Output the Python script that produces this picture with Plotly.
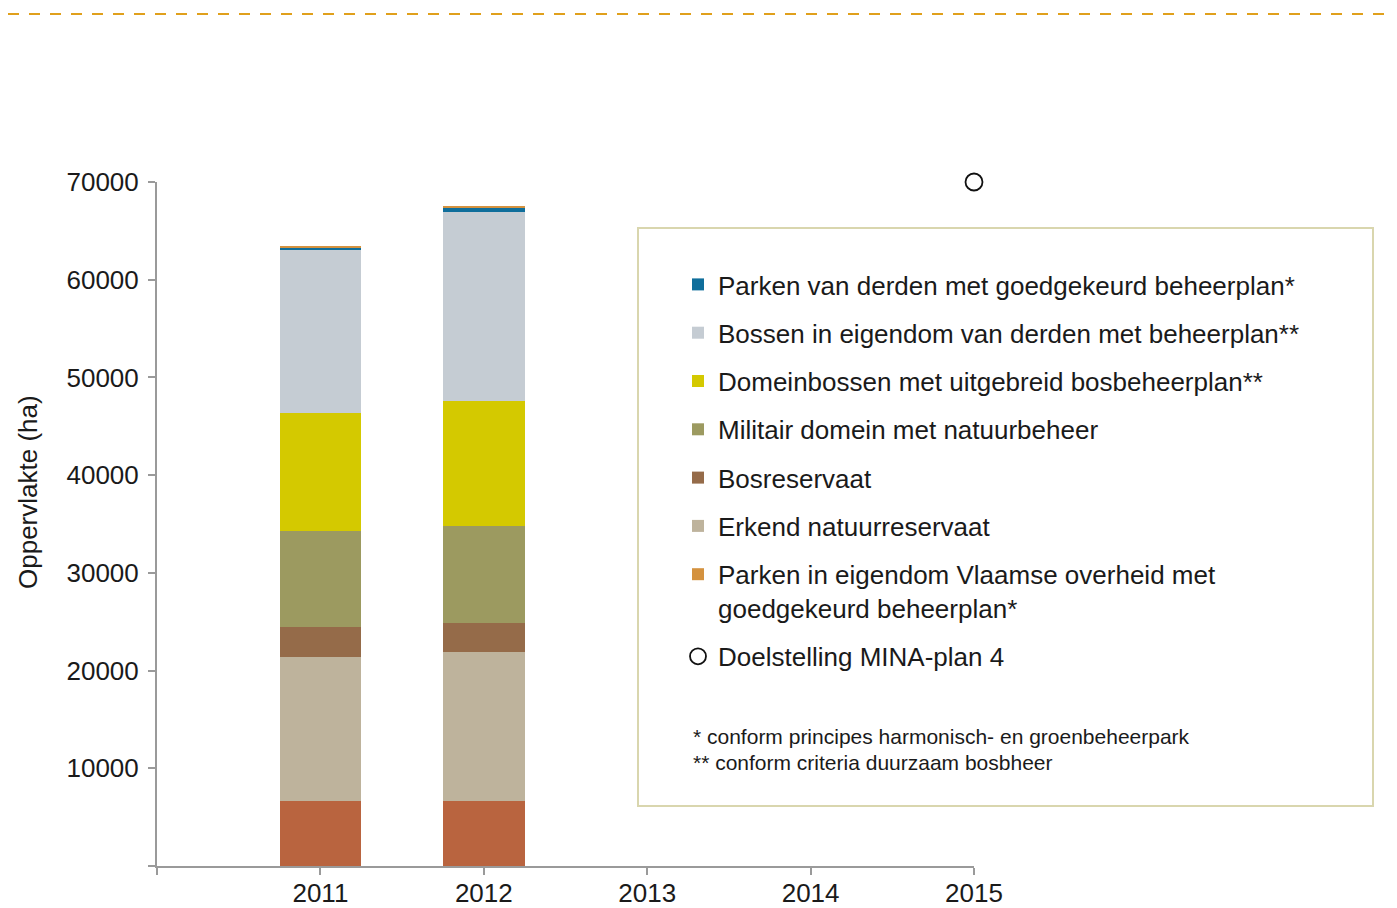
import plotly.graph_objects as go

years = [2011, 2012]
vlaams_natuurreservaat = [6650, 6650]
erkend_natuurreservaat = [14740, 15220]
bosreservaat = [3070, 3030]
militair_domein = [9825, 9900]
domeinbossen = [12075, 12790]
bossen_derden = [16680, 19340]
parken_derden = [300, 440]
parken_vlaamse_overheid = [100, 150]

target_year = [2015]
target_value = [70000]

x_ticks = [2010, 2011, 2012, 2013, 2014, 2015]
x_ticktext = ["", "2011", "2012", "2013", "2014", "2015"]
y_ticks = [0, 10000, 20000, 30000, 40000, 50000, 60000, 70000]
y_ticktext = ["", "10000", "20000", "30000", "40000", "50000", "60000", "70000"]

FONT = "Liberation Sans, Arial, Helvetica, sans-serif"
TXT = "#1a1a1a"
FS = 26

series = [
    ("Vlaams natuurreservaat", vlaams_natuurreservaat, "#B9643F", False, 0),
    ("Erkend natuurreservaat", erkend_natuurreservaat, "#BEB39C", True, 6),
    ("Bosreservaat", bosreservaat, "#956B49", True, 5),
    ("Militair domein met natuurbeheer", militair_domein, "#9C9A60", True, 4),
    ("Domeinbossen met uitgebreid bosbeheerplan**", domeinbossen, "#D4C900", True, 3),
    ("Bossen in eigendom van derden met beheerplan**", bossen_derden, "#C5CCD3", True, 2),
    ("Parken van derden met goedgekeurd beheerplan*", parken_derden, "#0F6E9B", True, 1),
    ("Parken in eigendom Vlaamse overheid met<br>goedgekeurd beheerplan*", parken_vlaamse_overheid, "#D4923F", True, 7),
]

fig = go.Figure()
for i, (name, vals, color, show, rank) in enumerate(series):
    fig.add_trace(go.Bar(
        x=years, y=vals, name=name, width=0.5,
        marker=dict(color=color, line=dict(width=0)),
        showlegend=show, legendrank=rank, legendgroup=f"g{i}",
    ))

fig.add_trace(go.Scatter(
    x=target_year, y=target_value, mode="markers", name="Doelstelling MINA-plan 4",
    marker=dict(symbol="circle-open", size=17, color="#111111", line=dict(width=1.8, color="#111111")),
    cliponaxis=False, legendrank=8, legendgroup="g_t",
))

# page has an 8px body margin; screen pixel -> paper coordinates
PL, PR, PT, PB = 157, 974, 182, 866
px_x = lambda p: (p - PL) / (PR - PL)
px_y = lambda p: (PB - p) / (PB - PT)

fig.add_shape(type="rect", xref="paper", yref="paper",
              x0=px_x(638), x1=px_x(1373), y0=px_y(806), y1=px_y(228),
              line=dict(color="#D9D6AE", width=2), fillcolor="rgba(0,0,0,0)", layer="below")
fig.add_shape(type="line", xref="paper", yref="paper",
              x0=px_x(8), x1=px_x(1389), y0=px_y(14), y1=px_y(14),
              line=dict(color="#E0A01C", width=2, dash="11px,10px"))

fig.add_annotation(text="* conform principes harmonisch- en groenbeheerpark",
                   xref="paper", yref="paper", x=px_x(691), y=px_y(736),
                   xanchor="left", yanchor="middle", showarrow=False,
                   font=dict(size=21, color=TXT, family=FONT))
fig.add_annotation(text="** conform criteria duurzaam bosbheer",
                   xref="paper", yref="paper", x=px_x(691), y=px_y(762),
                   xanchor="left", yanchor="middle", showarrow=False,
                   font=dict(size=21, color=TXT, family=FONT))
# y-axis title (placed like the reference, above the axis centre)
fig.add_annotation(text="Oppervlakte (ha)", textangle=-90,
                   xref="paper", yref="paper", x=px_x(28), y=px_y(492),
                   xanchor="center", yanchor="middle", showarrow=False,
                   font=dict(size=FS, color=TXT, family=FONT))

W, H = 1381, 900
fig.update_layout(
    width=W, height=H,
    margin=dict(l=PL - 8, r=W + 8 - PR, t=PT - 8, b=H + 8 - PB, autoexpand=False),
    barmode="stack",
    plot_bgcolor="white", paper_bgcolor="white",
    font=dict(family=FONT, color=TXT, size=FS),
    showlegend=True,
    legend=dict(
        x=px_x(678), y=px_y(261), xanchor="left", yanchor="top",
        traceorder="grouped", tracegroupgap=11.5, valign="top",
        font=dict(size=FS, family=FONT, color=TXT),
        bgcolor="rgba(0,0,0,0)", borderwidth=0,
    ),
    xaxis=dict(
        range=[2010, 2015], tickmode="array", tickvals=x_ticks, ticktext=x_ticktext,
        showgrid=False, zeroline=False, showline=True, linecolor="#9a9a9a", linewidth=2,
        ticks="outside", ticklen=7, tickwidth=2, tickcolor="#9a9a9a", automargin=False,
        tickfont=dict(size=FS, family=FONT, color=TXT), ticklabelstandoff=-4,
    ),
    yaxis=dict(
        range=[0, 70000], tickmode="array", tickvals=y_ticks, ticktext=y_ticktext,
        showgrid=False, zeroline=False, showline=True, linecolor="#9a9a9a", linewidth=2,
        ticks="outside", ticklen=7, tickwidth=2, tickcolor="#9a9a9a", automargin=False,
        tickfont=dict(size=FS, family=FONT, color=TXT), ticklabelstandoff=4,
    ),
)

fig.write_html("out.html")
